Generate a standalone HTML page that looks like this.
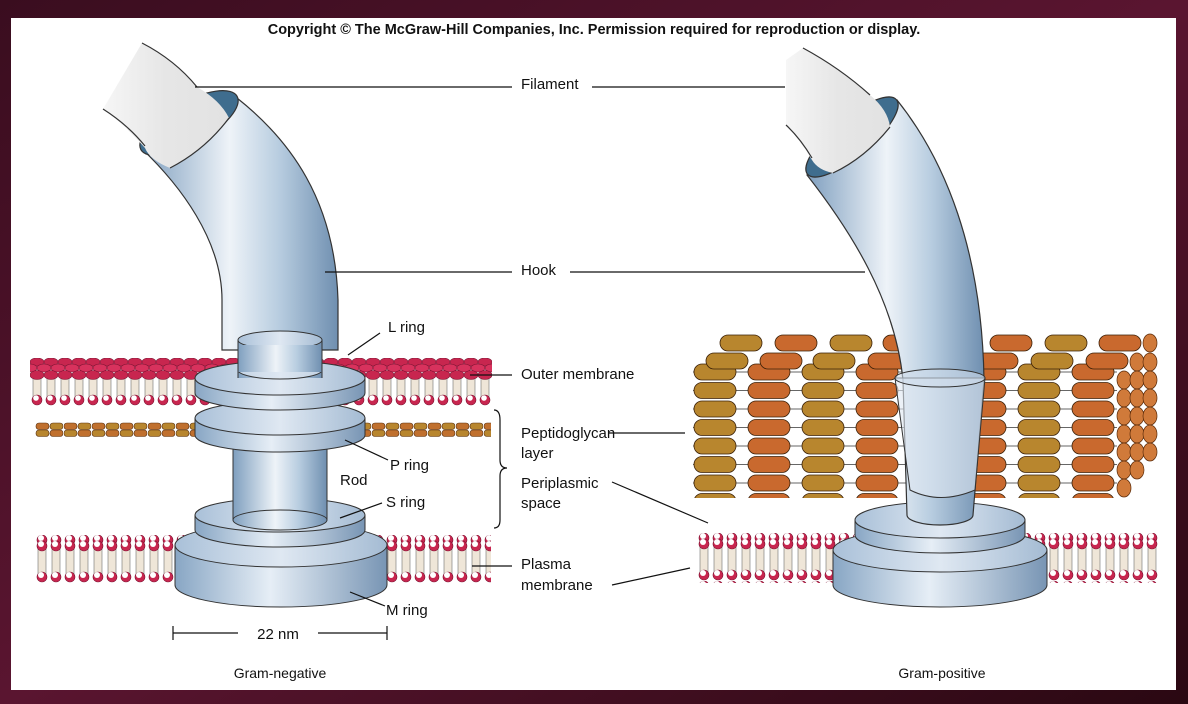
<!DOCTYPE html>
<html><head><meta charset="utf-8"><style>
html,body{margin:0;padding:0;width:1188px;height:704px;overflow:hidden;background:#2a0a16}
svg{display:block}
text{font-family:"Liberation Sans",Arial,sans-serif;font-size:15px;fill:#111}
</style></head><body>
<svg width="1188" height="704" viewBox="0 0 1188 704" xmlns="http://www.w3.org/2000/svg">
<defs>
<linearGradient id="bg" x1="0" y1="0" x2="1" y2="1"><stop offset="0" stop-color="#3a0d1f"/><stop offset="0.5" stop-color="#5a1530"/><stop offset="1" stop-color="#2a0812"/></linearGradient>
<linearGradient id="metal" x1="0" y1="0" x2="1" y2="0"><stop offset="0" stop-color="#7f9fbf"/><stop offset="0.45" stop-color="#eef3f8"/><stop offset="0.7" stop-color="#b8cde0"/><stop offset="1" stop-color="#6f8fb0"/></linearGradient>
<linearGradient id="fil" x1="0" y1="0" x2="1" y2="0"><stop offset="0" stop-color="#f6f6f6"/><stop offset="0.5" stop-color="#e6e6e6"/><stop offset="1" stop-color="#e2e2e2"/></linearGradient>
<linearGradient id="disc" x1="0" y1="0" x2="1" y2="0"><stop offset="0" stop-color="#88a6c4"/><stop offset="0.45" stop-color="#e6eef6"/><stop offset="1" stop-color="#7895b4"/></linearGradient>
<linearGradient id="top" x1="0" y1="0" x2="1" y2="0"><stop offset="0" stop-color="#a9c0d8"/><stop offset="0.5" stop-color="#dfe8f2"/><stop offset="1" stop-color="#a4bbd3"/></linearGradient>
<pattern id="om" width="14" height="48" patternUnits="userSpaceOnUse" x="30" y="358">
<rect x="0" y="0" width="14" height="48" fill="#fff"/>
<rect x="3" y="20" width="8" height="20" fill="#efe6d8" stroke="#555" stroke-width="0.5"/>
<ellipse cx="7" cy="4" rx="7" ry="4" fill="#c8264f" stroke="#7a1030" stroke-width="0.6"/>
<ellipse cx="0" cy="10" rx="7" ry="4" fill="#d8325d" stroke="#7a1030" stroke-width="0.6"/>
<ellipse cx="14" cy="10" rx="7" ry="4" fill="#d8325d" stroke="#7a1030" stroke-width="0.6"/>
<ellipse cx="7" cy="17" rx="7" ry="4.5" fill="#c8264f" stroke="#7a1030" stroke-width="0.6"/>
<circle cx="7" cy="42" r="5" fill="#c8264f" stroke="#7a1030" stroke-width="0.6"/>
<circle cx="6" cy="40" r="2.8" fill="#fff"/>
</pattern>
<pattern id="pm" width="14" height="48" patternUnits="userSpaceOnUse" x="35" y="535">
<rect x="0" y="0" width="14" height="48" fill="#fff"/>
<rect x="3" y="14" width="8" height="26" fill="#efe6d8" stroke="#555" stroke-width="0.5"/>
<circle cx="7" cy="5" r="5" fill="#c8264f" stroke="#7a1030" stroke-width="0.6"/>
<circle cx="6" cy="3" r="3" fill="#fff"/>
<circle cx="7" cy="11" r="5" fill="#c8264f" stroke="#7a1030" stroke-width="0.6"/>
<circle cx="6" cy="9" r="3" fill="#fff"/>
<circle cx="7" cy="42" r="5" fill="#c8264f" stroke="#7a1030" stroke-width="0.6"/>
<circle cx="6" cy="40" r="3" fill="#fff"/>
</pattern>
<pattern id="pm2" width="14" height="48" patternUnits="userSpaceOnUse" x="697" y="533">
<rect x="0" y="0" width="14" height="48" fill="#fff"/>
<rect x="3" y="14" width="8" height="26" fill="#efe6d8" stroke="#555" stroke-width="0.5"/>
<circle cx="7" cy="5" r="5" fill="#c8264f" stroke="#7a1030" stroke-width="0.6"/>
<circle cx="6" cy="3" r="3" fill="#fff"/>
<circle cx="7" cy="11" r="5" fill="#c8264f" stroke="#7a1030" stroke-width="0.6"/>
<circle cx="6" cy="9" r="3" fill="#fff"/>
<circle cx="7" cy="42" r="5" fill="#c8264f" stroke="#7a1030" stroke-width="0.6"/>
<circle cx="6" cy="40" r="3" fill="#fff"/>
</pattern>
<pattern id="pg" width="28" height="16" patternUnits="userSpaceOnUse" x="35" y="422">
<rect width="28" height="16" fill="#fff"/>
<rect x="1" y="1" width="13" height="6.5" rx="3" fill="#c0702e" stroke="#5a3010" stroke-width="0.6"/>
<rect x="1" y="8" width="13" height="6.5" rx="3" fill="#b8862e" stroke="#5a3010" stroke-width="0.6"/>
<rect x="15" y="1" width="13" height="6.5" rx="3" fill="#b8862e" stroke="#5a3010" stroke-width="0.6"/>
<rect x="15" y="8" width="13" height="6.5" rx="3" fill="#c0702e" stroke="#5a3010" stroke-width="0.6"/>
</pattern>
<pattern id="gp" width="108" height="18.5" patternUnits="userSpaceOnUse" x="693" y="363">
<rect width="108" height="18.5" fill="#fff"/>
<line x1="0" y1="9" x2="108" y2="9" stroke="#333" stroke-width="0.8"/>
<rect x="1" y="1" width="42" height="16" rx="8" fill="#b8862e" stroke="#3a2008" stroke-width="0.8"/>
<rect x="55" y="1" width="42" height="16" rx="8" fill="#c9692e" stroke="#3a2008" stroke-width="0.8"/>
</pattern>
</defs>
<rect width="1188" height="704" fill="url(#bg)"/>
<rect x="11" y="18" width="1165" height="672" fill="#fff"/>
<text x="594" y="34" text-anchor="middle" style="font-weight:bold;font-size:14.5px">Copyright © The McGraw-Hill Companies, Inc.  Permission required for reproduction or display.</text>

<!-- LEFT membranes -->
<rect x="30" y="358" width="462" height="48" fill="url(#om)"/>
<rect x="35" y="422" width="456" height="16" fill="url(#pg)"/>
<rect x="35" y="535" width="456" height="48" fill="url(#pm)"/>

<!-- left hook -->
<path d="M141,148 C180,185 222,240 222,300 L222,350 L338,350 L338,300 C335,200 290,140 237,98 Z" fill="url(#metal)" stroke="#333" stroke-width="1.2"/>
<ellipse cx="189" cy="123" rx="55" ry="21" transform="rotate(-29 189 123)" fill="#3f6d8e" stroke="#333" stroke-width="1.2"/>
<path d="M142,43 Q175,60 197,87 Q220,100 229,118 Q205,150 170,168 Q150,160 145,148 Q125,125 103,109 Z" fill="url(#fil)"/>
<path d="M142,43 Q175,60 197,87" fill="none" stroke="#333" stroke-width="1.2"/>
<path d="M229,118 Q205,150 170,168" fill="none" stroke="#333" stroke-width="1.2"/>
<path d="M103,109 Q128,125 145,146" fill="none" stroke="#333" stroke-width="1.2"/>

<!-- left rod/L -->
<rect x="238" y="340" width="84" height="40" fill="url(#metal)" stroke="#333"/>
<ellipse cx="280" cy="340" rx="42" ry="9" fill="url(#top)" stroke="#333"/>
<!-- M ring -->
<path d="M175,545 L175,585 A106,22 0 0 0 387,585 L387,545 Z" fill="url(#disc)" stroke="#333"/>
<ellipse cx="281" cy="545" rx="106" ry="22" fill="url(#top)" stroke="#333"/>
<!-- S ring -->
<path d="M195,515 L195,530 A85,17 0 0 0 365,530 L365,515 Z" fill="url(#disc)" stroke="#333"/>
<ellipse cx="280" cy="515" rx="85" ry="17" fill="url(#top)" stroke="#333"/>
<!-- rod -->
<rect x="233" y="440" width="94" height="80" fill="url(#metal)" stroke="#333"/>
<ellipse cx="280" cy="520" rx="47" ry="10" fill="url(#metal)" stroke="#333"/>
<!-- P ring -->
<path d="M195,418 L195,435 A85,17 0 0 0 365,435 L365,418 Z" fill="url(#disc)" stroke="#333"/>
<ellipse cx="280" cy="418" rx="85" ry="17" fill="url(#top)" stroke="#333"/>
<!-- L ring -->
<path d="M195,378 L195,393 A85,17 0 0 0 365,393 L365,378 Z" fill="url(#disc)" stroke="#333"/>
<ellipse cx="280" cy="378" rx="85" ry="17" fill="url(#top)" stroke="#333"/>
<path d="M238,378 L238,370 A42,9 0 0 0 322,370 L322,378" fill="url(#metal)" stroke="#333"/>
<rect x="238" y="345" width="84" height="27" fill="url(#metal)"/>
<line x1="238" y1="345" x2="238" y2="372" stroke="#333"/><line x1="322" y1="345" x2="322" y2="372" stroke="#333"/>

<!-- RIGHT peptidoglycan -->
<rect x="693" y="363" width="424" height="135" fill="url(#gp)"/>
<g fill="#b8862e" stroke="#3a2008" stroke-width="0.8">
<rect x="720" y="335" width="42" height="16" rx="8"/><rect x="830" y="335" width="42" height="16" rx="8"/><rect x="1045" y="335" width="42" height="16" rx="8"/>
<rect x="706" y="353" width="42" height="16" rx="8"/><rect x="813" y="353" width="42" height="16" rx="8"/><rect x="1031" y="353" width="42" height="16" rx="8"/>
</g>
<g fill="#c9692e" stroke="#3a2008" stroke-width="0.8">
<rect x="775" y="335" width="42" height="16" rx="8"/><rect x="883" y="335" width="42" height="16" rx="8"/><rect x="990" y="335" width="42" height="16" rx="8"/><rect x="1099" y="335" width="42" height="16" rx="8"/>
<rect x="760" y="353" width="42" height="16" rx="8"/><rect x="868" y="353" width="42" height="16" rx="8"/><rect x="976" y="353" width="42" height="16" rx="8"/><rect x="1086" y="353" width="42" height="16" rx="8"/>
</g>
<g fill="#d07a3a" stroke="#5a2a08" stroke-width="0.7">
<ellipse cx="1150" cy="343" rx="7" ry="9"/><ellipse cx="1137" cy="362" rx="7" ry="9"/><ellipse cx="1150" cy="362" rx="7" ry="9"/>
<ellipse cx="1124" cy="380" rx="7" ry="9"/><ellipse cx="1137" cy="380" rx="7" ry="9"/><ellipse cx="1150" cy="380" rx="7" ry="9"/>
<ellipse cx="1124" cy="398" rx="7" ry="9"/><ellipse cx="1137" cy="398" rx="7" ry="9"/><ellipse cx="1150" cy="398" rx="7" ry="9"/>
<ellipse cx="1124" cy="416" rx="7" ry="9"/><ellipse cx="1137" cy="416" rx="7" ry="9"/><ellipse cx="1150" cy="416" rx="7" ry="9"/>
<ellipse cx="1124" cy="434" rx="7" ry="9"/><ellipse cx="1137" cy="434" rx="7" ry="9"/><ellipse cx="1150" cy="434" rx="7" ry="9"/>
<ellipse cx="1124" cy="452" rx="7" ry="9"/><ellipse cx="1137" cy="452" rx="7" ry="9"/><ellipse cx="1150" cy="452" rx="7" ry="9"/>
<ellipse cx="1124" cy="470" rx="7" ry="9"/><ellipse cx="1137" cy="470" rx="7" ry="9"/>
<ellipse cx="1124" cy="488" rx="7" ry="9"/>
</g>
<rect x="697" y="533" width="463" height="50" fill="url(#pm2)"/>

<!-- right discs -->
<path d="M833,550 L833,585 A107,22 0 0 0 1047,585 L1047,550 Z" fill="url(#disc)" stroke="#333"/>
<ellipse cx="940" cy="550" rx="107" ry="22" fill="url(#top)" stroke="#333"/>
<path d="M855,520 L855,535 A85,18 0 0 0 1025,535 L1025,520 Z" fill="url(#disc)" stroke="#333"/>
<ellipse cx="940" cy="520" rx="85" ry="18" fill="url(#top)" stroke="#333"/>
<!-- right hook -->
<path d="M807,175 C850,230 895,300 903,380 L907,515 A33,10 0 0 0 973,515 L984,380 C982,250 945,160 897,100 Z" fill="url(#metal)" stroke="#333" stroke-width="1.2"/>
<ellipse cx="852" cy="137" rx="58" ry="19" transform="rotate(-40 852 137)" fill="#3f6d8e" stroke="#333" stroke-width="1.2"/>
<path d="M803,48 Q840,68 870,95 Q888,110 890,127 Q865,158 833,173 Q818,170 812,160 Q800,140 786,125 L786,60 Z" fill="url(#fil)"/>
<path d="M803,48 Q840,68 870,95" fill="none" stroke="#333" stroke-width="1.2"/>
<path d="M890,127 Q865,158 833,173" fill="none" stroke="#333" stroke-width="1.2"/>
<path d="M786,125 Q800,138 812,158" fill="none" stroke="#333" stroke-width="1.2"/>
<!-- cup -->
<path d="M895,378 L985,378 L975,490 Q940,505 910,490 Z" fill="#dfe8f2" fill-opacity="0.6" stroke="#333"/>
<ellipse cx="940" cy="378" rx="45" ry="9" fill="#cfdceb" fill-opacity="0.6" stroke="#333"/>

<!-- leader lines -->
<g stroke="#111" stroke-width="1.2" fill="none">
<line x1="195" y1="87" x2="512" y2="87"/>
<line x1="592" y1="87" x2="785" y2="87"/>
<line x1="325" y1="272" x2="512" y2="272"/>
<line x1="570" y1="272" x2="865" y2="272"/>
<line x1="348" y1="355" x2="380" y2="333"/>
<line x1="470" y1="375" x2="512" y2="375"/>
<line x1="608" y1="433" x2="685" y2="433"/>
<line x1="345" y1="440" x2="388" y2="460"/>
<line x1="340" y1="518" x2="382" y2="503"/>
<line x1="350" y1="592" x2="385" y2="606"/>
<line x1="472" y1="566" x2="512" y2="566"/>
<line x1="612" y1="482" x2="708" y2="523"/>
<line x1="612" y1="585" x2="690" y2="568"/>
<path d="M494,410 Q500,410 500,420 L500,460 Q500,468 507,468 Q500,468 500,476 L500,520 Q500,528 494,528"/>
<line x1="173" y1="633" x2="238" y2="633"/>
<line x1="318" y1="633" x2="387" y2="633"/>
<line x1="173" y1="626" x2="173" y2="640"/>
<line x1="387" y1="626" x2="387" y2="640"/>
</g>

<text x="521" y="89">Filament</text>
<text x="521" y="275">Hook</text>
<text x="388" y="332">L ring</text>
<text x="521" y="379">Outer membrane</text>
<text x="521" y="438">Peptidoglycan</text>
<text x="521" y="458">layer</text>
<text x="521" y="488">Periplasmic</text>
<text x="521" y="508">space</text>
<text x="521" y="569">Plasma</text>
<text x="521" y="590">membrane</text>
<text x="390" y="470">P ring</text>
<text x="340" y="485">Rod</text>
<text x="386" y="507">S ring</text>
<text x="386" y="615">M ring</text>
<text x="278" y="639" text-anchor="middle">22 nm</text>
<text x="280" y="678" text-anchor="middle" style="font-size:14px">Gram-negative</text>
<text x="942" y="678" text-anchor="middle" style="font-size:14px">Gram-positive</text>
</svg>
</body></html>
